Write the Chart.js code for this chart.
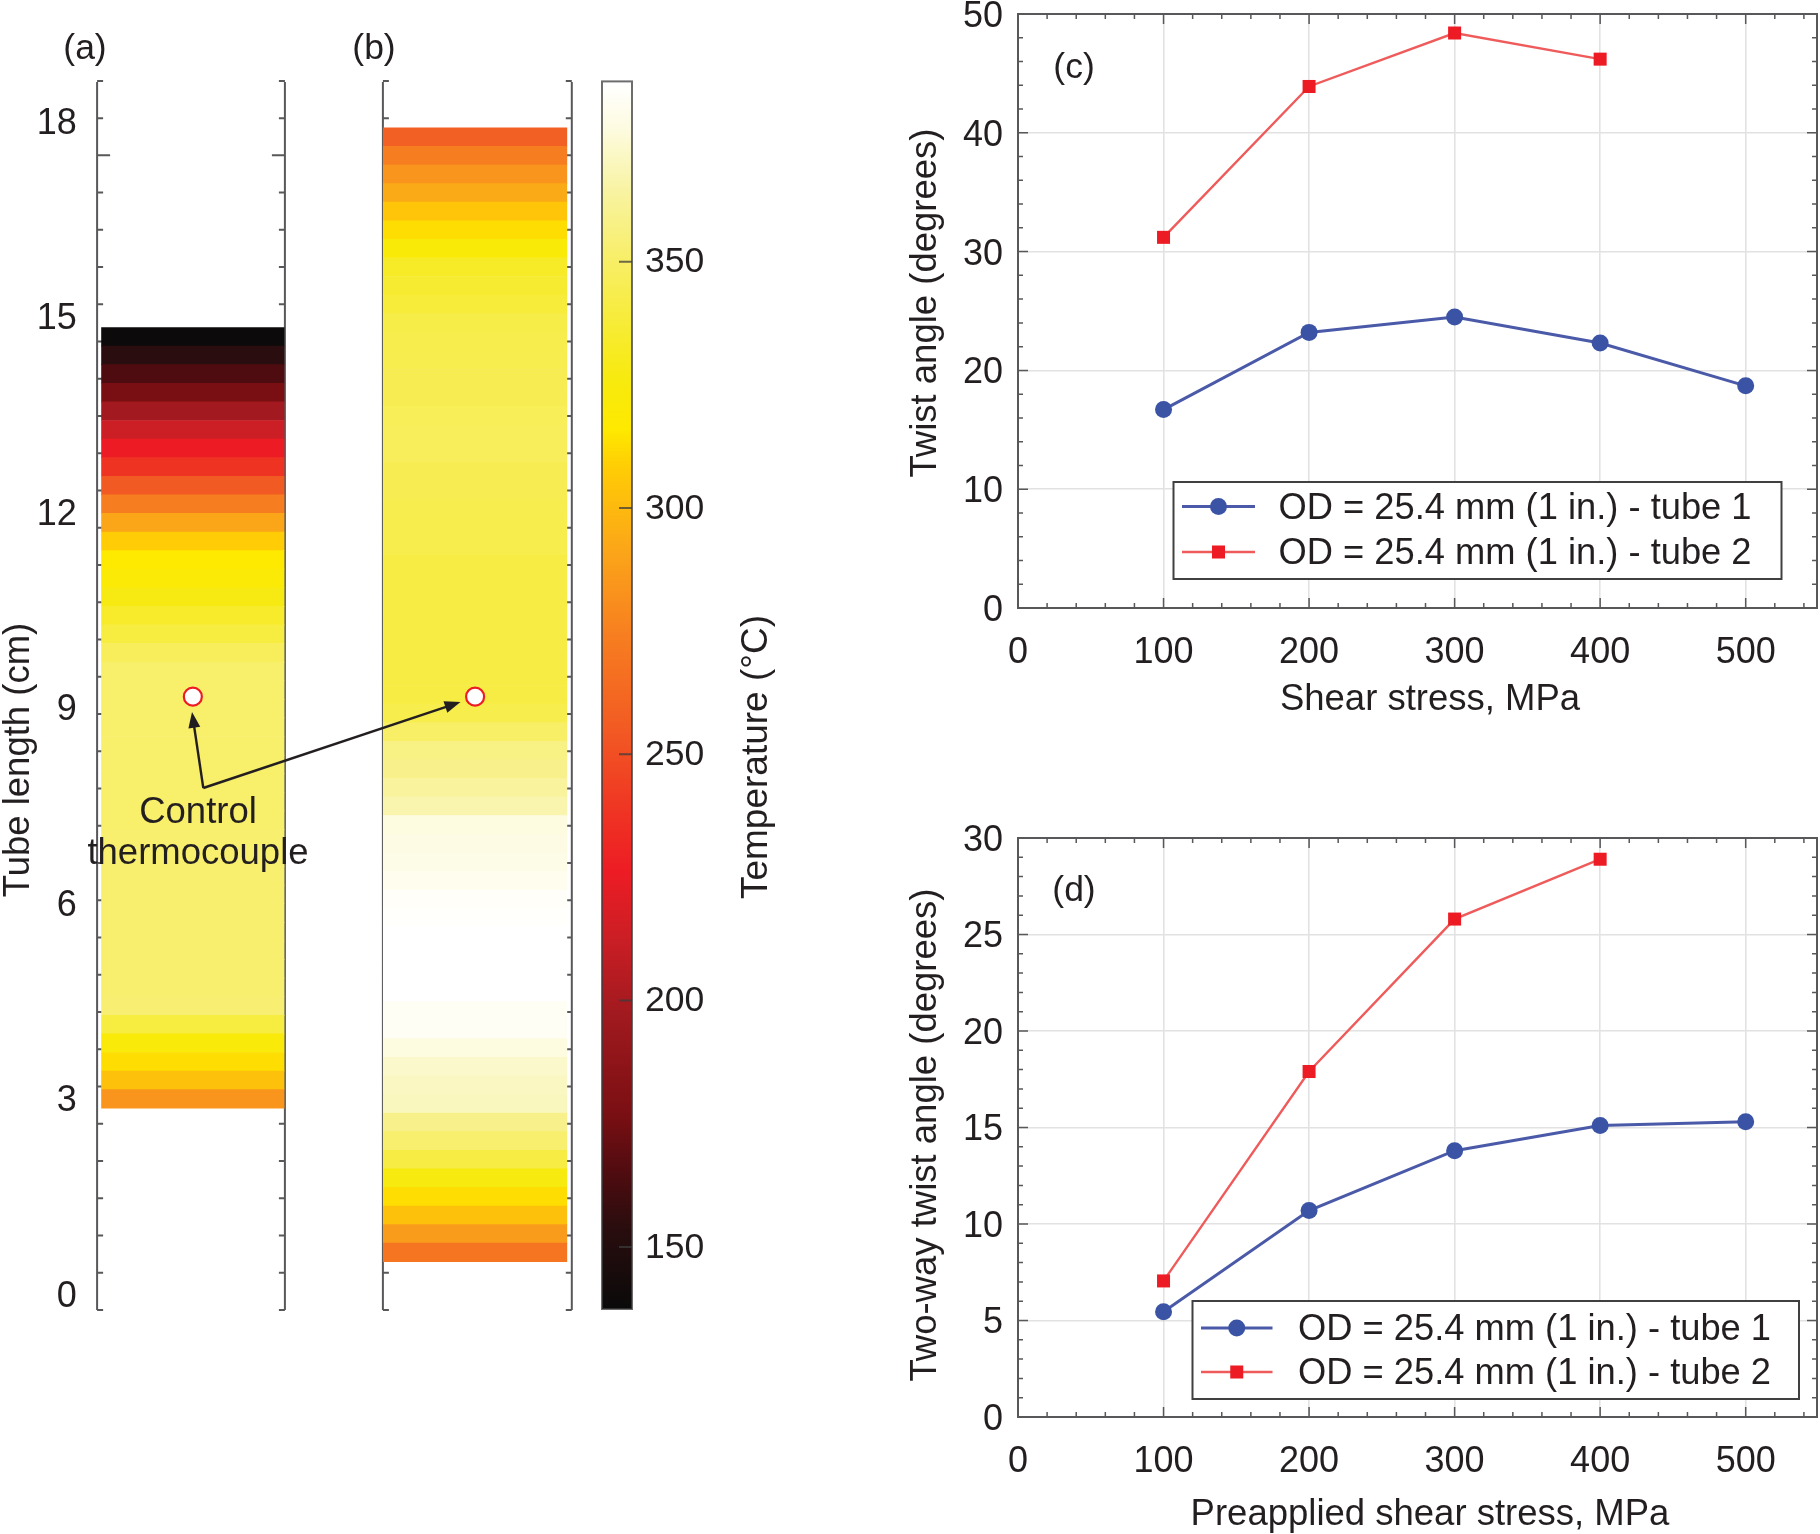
<!DOCTYPE html>
<html>
<head>
<meta charset="utf-8">
<title>Tube temperature and twist angle</title>
<script src="https://cdn.jsdelivr.net/npm/chart.js@4"></script>
<style>
    html, body { margin: 0; padding: 0; background: #fff; }
    #page { position: relative; width: 1820px; height: 1534px; overflow: hidden; }
    /* canvases start above the page so the top tick label of (c) does not push its plot down */
    canvas { position: absolute; left: 0; top: -60px; }
</style>
</head>
<body>
<div id="page">
    <canvas id="panel-b" width="1820" height="1594"></canvas>
    <canvas id="panel-a" width="1820" height="1594"></canvas>
    <canvas id="colorbar" width="1820" height="1594"></canvas>
    <canvas id="panel-c" width="1820" height="1594"></canvas>
    <canvas id="panel-d" width="1820" height="1594"></canvas>
</div>
<script>
// Panels (a) and (b): band temperatures, bottom band first (degrees C)
const bandHeight = 0.2852; // cm
const frameTickStep = 4 / 7; // cm
const tubeStartA = 2.835; // cm
const tubeStartB = 0.48;  // cm
const tempsA = [284, 303, 313, 323, 340, 353,
    352, 352, 352, 352, 352, 352, 352, 352, 352, 351, 351, 351, 351, 351, 351, 351, 351, 351,
    347, 340, 334, 327, 320, 316, 308, 291, 274, 255, 238, 226, 213, 198, 177, 165, 154, 138];
const tempsB = [269, 287, 303, 313, 326, 341, 352, 359, 370, 371, 373, 377, 383, 383,
    386, 386, 386, 386, 385, 384, 381, 379, 378, 377, 367, 363, 359, 357, 350, 343,
    341, 341, 341, 341, 341, 341, 341, 341, 343, 343, 344, 345, 345, 347, 347, 346,
    345, 345, 344, 343, 342, 338, 336, 333, 322, 313, 305, 293, 284, 274, 258];
const thermocoupleCm = 9.15;
const tubeTicks = [0, 3, 6, 9, 12, 15, 18];

// Colour scale
const tempRange = [137.4, 386.6];
const tempTicks = [150, 200, 250, 300, 350];
const tempStops = [137, 154, 165, 177, 198, 213, 226, 238, 255, 274, 291, 308, 316, 326, 340, 352, 364, 377, 386];
const stopColors = ['#0a0a0a', '#2a0d0e', '#4f0c10', '#7a0f13', '#a21a1f', '#cc1e25', '#ed1c24', '#ef3323', '#f25a23',
    '#f77e20', '#fba519', '#ffcc05', '#fee900', '#f7ea0e', '#f7ec40', '#f8ef6e', '#f8f3a0', '#fdfbe0', '#ffffff'];

// Panels (c) and (d)
const stress = [100, 200, 300, 400, 500];
const stressTicks = [0, 100, 200, 300, 400, 500];
const twistTube1 = [16.7, 23.2, 24.5, 22.3, 18.7];
const twistTube2 = [31.2, 43.9, 48.4, 46.2];
const twistTicks = [0, 10, 20, 30, 40, 50];
const twoWayTube1 = [5.45, 10.7, 13.8, 15.1, 15.3];
const twoWayTube2 = [7.05, 17.9, 25.8, 28.9];
const twoWayTicks = [0, 5, 10, 15, 20, 25, 30];
const seriesNames = ['OD = 25.4 mm (1 in.) - tube 1', 'OD = 25.4 mm (1 in.) - tube 2'];

const PAGE_W = 1820, PAGE_H = 1534, SHIFT = 60;
const FONT = '"Liberation Sans", Arial, sans-serif';
const INK = '#231f20';
const FRAME = '#58585a';

function tempColor(t) {
    let i = 0;
    while (i < tempStops.length - 2 && t > tempStops[i + 1]) i++;
    const f = Math.min(1, Math.max(0, (t - tempStops[i]) / (tempStops[i + 1] - tempStops[i])));
    const a = parseInt(stopColors[i].slice(1), 16), b = parseInt(stopColors[i + 1].slice(1), 16);
    const mix = shift => Math.round(((a >> shift) & 255) * (1 - f) + ((b >> shift) & 255) * f);
    return `rgb(${mix(16)},${mix(8)},${mix(0)})`;
}

function areaLayout(area, leftW, rightW, axisH) {
    return {
        autoPadding: false,
        padding: {
            left: area.left - leftW,
            top: area.top + SHIFT,
            right: PAGE_W - area.right - rightW,
            bottom: PAGE_H - area.bottom - axisH
        }
    };
}

// Real text placed on the page: axis titles, panel letters, notes
function textLabels(list) {
    return {
        id: 'textLabels',
        afterDraw(chart) {
            const ctx = chart.ctx;
            list.forEach(l => {
                ctx.save();
                ctx.translate(l.x, l.y + SHIFT);
                if (l.rotate) ctx.rotate(-Math.PI / 2);
                ctx.font = `${l.size}px ${FONT}`;
                ctx.fillStyle = INK;
                ctx.textAlign = 'center';
                ctx.textBaseline = 'middle';
                ctx.fillText(l.text, 0, 2.5);
                ctx.restore();
            });
        }
    };
}

// Open bracket around a tube, with short inward ticks
function tubeFrame(frameLeft, frameRight, longTick) {
    return {
        id: 'tubeFrame',
        beforeDatasetsDraw(chart) {
            const ctx = chart.ctx, y = chart.scales.y;
            ctx.save();
            ctx.strokeStyle = FRAME;
            ctx.lineWidth = 2;
            ctx.beginPath();
            ctx.moveTo(frameLeft, y.top);
            ctx.lineTo(frameLeft, y.bottom);
            ctx.moveTo(frameRight, y.top);
            ctx.lineTo(frameRight, y.bottom);
            for (let k = 0; k <= 33; k++) {
                const py = y.getPixelForValue(y.min + k * frameTickStep);
                const len = k === longTick ? 13 : 6;
                ctx.moveTo(frameLeft, py);
                ctx.lineTo(frameLeft + len, py);
                ctx.moveTo(frameRight, py);
                ctx.lineTo(frameRight - len, py);
            }
            ctx.stroke();
            ctx.restore();
        }
    };
}

function drawArrow(ctx, x0, y0, x1, y1) {
    const ang = Math.atan2(y1 - y0, x1 - x0), head = 17, spread = 0.36;
    ctx.beginPath();
    ctx.moveTo(x0, y0);
    ctx.lineTo(x1 - Math.cos(ang) * head * 0.8, y1 - Math.sin(ang) * head * 0.8);
    ctx.stroke();
    ctx.beginPath();
    ctx.moveTo(x1, y1);
    ctx.lineTo(x1 - head * Math.cos(ang - spread), y1 - head * Math.sin(ang - spread));
    ctx.lineTo(x1 - head * Math.cos(ang + spread), y1 - head * Math.sin(ang + spread));
    ctx.closePath();
    ctx.fill();
}

const controlArrows = {
    id: 'controlArrows',
    afterDraw(chart) {
        const ctx = chart.ctx;
        ctx.save();
        ctx.translate(0, SHIFT);
        ctx.strokeStyle = '#231f20';
        ctx.fillStyle = '#231f20';
        ctx.lineWidth = 2.4;
        drawArrow(ctx, 203.3, 788, 192, 712);
        drawArrow(ctx, 203.3, 788, 460.5, 702);
        ctx.restore();
    }
};

function tubeChart(id, temps, start, area, axisW, plugins) {
    const bands = temps.map((t, i) => ({
        type: 'bar',
        data: [[start + i * bandHeight, start + (i + 1) * bandHeight]],
        backgroundColor: tempColor(t),
        barPercentage: 1,
        categoryPercentage: 1,
        grouped: false,
        order: 2
    }));
    const marker = {
        type: 'line',
        data: [thermocoupleCm],
        showLine: false,
        pointRadius: 9,
        pointBorderWidth: 2.2,
        pointBackgroundColor: '#fff',
        pointBorderColor: '#ed1c24',
        order: 1
    };
    return new Chart(document.getElementById(id), {
        data: { labels: ['tube'], datasets: bands.concat([marker]) },
        options: {
            responsive: false,
            animation: false,
            devicePixelRatio: 1,
            layout: areaLayout(area, axisW, 0, 0),
            plugins: { legend: { display: false }, tooltip: { enabled: false } },
            scales: {
                x: { type: 'category', offset: true, display: false },
                y: {
                    min: -0.26,
                    max: 18.58,
                    display: axisW > 0,
                    afterFit: s => { s.width = axisW; },
                    afterBuildTicks: s => { s.ticks = tubeTicks.map(v => ({ value: v })); },
                    border: { display: false },
                    grid: { display: false, drawTicks: false },
                    ticks: { padding: 24.5, labelOffset: 4, color: INK, font: { family: FONT, size: 36 } }
                }
            }
        },
        plugins: plugins
    });
}

tubeChart('panel-b', tempsB, tubeStartB, { left: 382.9, right: 567.3, top: 82, bottom: 1310 }, 0, [
    tubeFrame(382.9, 571.8, -1),
    textLabels([{ text: '(b)', x: 374, y: 47, size: 35.5 }])
]);

tubeChart('panel-a', tempsA, tubeStartA, { left: 101.2, right: 284.5, top: 82, bottom: 1310 }, 101.2, [
    tubeFrame(97.1, 284.9, 31),
    controlArrows,
    textLabels([
        { text: '(a)', x: 85, y: 47, size: 35.5 },
        { text: 'Tube length (cm)', x: 16, y: 760, size: 36.5, rotate: true },
        { text: 'Control', x: 198, y: 810, size: 36.5 },
        { text: 'thermocouple', x: 198, y: 851, size: 36.5 }
    ])
]);

// Colour bar: one floating bar painted with the colour scale
const colorbarFrame = {
    id: 'colorbarFrame',
    afterDatasetsDraw(chart) {
        const ctx = chart.ctx, a = chart.chartArea, y = chart.scales.y;
        ctx.save();
        ctx.strokeStyle = 'rgba(60,60,60,0.75)';
        ctx.lineWidth = 2;
        ctx.strokeRect(a.left, a.top, a.right - a.left, a.bottom - a.top);
        ctx.beginPath();
        tempTicks.forEach(t => {
            const py = y.getPixelForValue(t);
            ctx.moveTo(a.right, py);
            ctx.lineTo(a.right - 13, py);
        });
        ctx.stroke();
        ctx.restore();
    }
};

const colorbarArea = { left: 602, right: 632, top: 81.4, bottom: 1309 };
new Chart(document.getElementById('colorbar'), {
    data: {
        labels: ['temperature'],
        datasets: [{
            type: 'bar',
            data: [tempRange],
            barPercentage: 1,
            categoryPercentage: 1,
            backgroundColor(c) {
                const y = c.chart.scales.y;
                if (!y || !c.chart.chartArea) return '#888';
                const g = c.chart.ctx.createLinearGradient(0, y.getPixelForValue(tempRange[0]), 0, y.getPixelForValue(tempRange[1]));
                tempStops.forEach((t, i) => {
                    const f = (t - tempRange[0]) / (tempRange[1] - tempRange[0]);
                    g.addColorStop(Math.min(1, Math.max(0, f)), stopColors[i]);
                });
                return g;
            }
        }]
    },
    options: {
        responsive: false,
        animation: false,
        devicePixelRatio: 1,
        layout: areaLayout(colorbarArea, 0, 90, 0),
        plugins: { legend: { display: false }, tooltip: { enabled: false } },
        scales: {
            x: { type: 'category', offset: true, display: false },
            y: {
                position: 'right',
                min: tempRange[0],
                max: tempRange[1],
                afterFit: s => { s.width = 90; },
                afterBuildTicks: s => { s.ticks = tempTicks.map(v => ({ value: v })); },
                border: { display: false },
                grid: { display: false, drawTicks: false },
                ticks: { padding: 13, labelOffset: 1, color: INK, font: { family: FONT, size: 35.5 } }
            }
        }
    },
    plugins: [colorbarFrame, textLabels([{ text: 'Temperature (°C)', x: 754, y: 757, size: 37, rotate: true }])]
});

// Box and inward ticks on all four sides of a line plot
function plotFrame(xMinor, yMinor) {
    return {
        id: 'plotFrame',
        beforeDatasetsDraw(chart) {
            const ctx = chart.ctx, a = chart.chartArea, xs = chart.scales.x, ys = chart.scales.y;
            ctx.save();
            ctx.strokeStyle = FRAME;
            ctx.lineWidth = 2;
            ctx.strokeRect(a.left, a.top, a.right - a.left, a.bottom - a.top);
            ctx.lineWidth = 1.5;
            ctx.beginPath();
            for (let v = 0; v <= xs.max; v += xMinor) {
                const px = xs.getPixelForValue(v), len = v % 100 === 0 ? 10 : 5;
                ctx.moveTo(px, a.bottom);
                ctx.lineTo(px, a.bottom - len);
                ctx.moveTo(px, a.top);
                ctx.lineTo(px, a.top + len);
            }
            for (let v = 0; v <= ys.max; v += yMinor) {
                const py = ys.getPixelForValue(v), len = ys.ticks.some(t => t.value === v) ? 10 : 5;
                ctx.moveTo(a.left, py);
                ctx.lineTo(a.left + len, py);
                ctx.moveTo(a.right, py);
                ctx.lineTo(a.right - len, py);
            }
            ctx.stroke();
            ctx.restore();
        }
    };
}

// Legend box inside the plot
function legendBox(box) {
    return {
        id: 'legendBox',
        afterDatasetsDraw(chart) {
            const ctx = chart.ctx;
            ctx.save();
            ctx.translate(0, SHIFT);
            ctx.fillStyle = '#fff';
            ctx.strokeStyle = '#404041';
            ctx.lineWidth = 2;
            ctx.fillRect(box.x0, box.y0, box.x1 - box.x0, box.y1 - box.y0);
            ctx.strokeRect(box.x0, box.y0, box.x1 - box.x0, box.y1 - box.y0);
            chart.data.datasets.forEach((ds, i) => {
                const y = box.rows[i], mid = (box.line0 + box.line1) / 2;
                ctx.strokeStyle = ds.borderColor;
                ctx.lineWidth = ds.borderWidth;
                ctx.beginPath();
                ctx.moveTo(box.line0, y);
                ctx.lineTo(box.line1, y);
                ctx.stroke();
                ctx.fillStyle = ds.pointBackgroundColor;
                if (ds.pointStyle === 'rect') {
                    const half = ds.pointRadius * Math.SQRT1_2;
                    ctx.fillRect(mid - half, y - half, half * 2, half * 2);
                } else {
                    ctx.beginPath();
                    ctx.arc(mid, y, ds.pointRadius, 0, Math.PI * 2);
                    ctx.fill();
                }
                ctx.fillStyle = INK;
                ctx.font = `36.3px ${FONT}`;
                ctx.textBaseline = 'middle';
                ctx.fillText(ds.label, box.text, y + 2);
            });
            ctx.restore();
        }
    };
}

function xy(values) {
    return values.map((v, i) => ({ x: stress[i], y: v }));
}

function linePlot(id, tube1, tube2, area, yMax, yTicks, yMinor, plugins) {
    const axisW = 110, axisH = 70;
    const lineFont = { family: FONT, size: 36 };
    return new Chart(document.getElementById(id), {
        type: 'line',
        data: {
            datasets: [
                {
                    label: seriesNames[0],
                    data: xy(tube1),
                    borderColor: '#4a5aa8',
                    borderWidth: 3,
                    pointStyle: 'circle',
                    pointRadius: 8.5,
                    pointBackgroundColor: '#3a53a4',
                    pointBorderWidth: 0,
                    tension: 0
                },
                {
                    label: seriesNames[1],
                    data: xy(tube2),
                    borderColor: '#ef5b5b',
                    borderWidth: 2.4,
                    pointStyle: 'rect',
                    pointRadius: 9.2,
                    pointBackgroundColor: '#ed1c24',
                    pointBorderWidth: 0,
                    tension: 0
                }
            ]
        },
        options: {
            responsive: false,
            animation: false,
            devicePixelRatio: 1,
            layout: areaLayout(area, axisW, 0, axisH),
            plugins: { legend: { display: false }, tooltip: { enabled: false } },
            scales: {
                x: {
                    type: 'linear',
                    min: 0,
                    max: 549,
                    afterFit: s => { s.height = axisH; },
                    afterBuildTicks: s => { s.ticks = stressTicks.map(v => ({ value: v })); },
                    border: { display: false },
                    grid: { color: '#e2e2e2', lineWidth: 1.6, drawTicks: false },
                    ticks: { padding: 23, maxRotation: 0, color: INK, font: lineFont }
                },
                y: {
                    min: 0,
                    max: yMax,
                    afterFit: s => { s.width = axisW; },
                    afterBuildTicks: s => { s.ticks = yTicks.map(v => ({ value: v })); },
                    border: { display: false },
                    grid: { color: '#e2e2e2', lineWidth: 1.6, drawTicks: false },
                    ticks: { padding: 15, labelOffset: 3, color: INK, font: lineFont }
                }
            }
        },
        plugins: [plotFrame(20, yMinor)].concat(plugins)
    });
}

linePlot('panel-c', twistTube1, twistTube2, { left: 1018, right: 1817, top: 14, bottom: 608 }, 50, twistTicks, 2, [
    legendBox({ x0: 1173.5, y0: 482, x1: 1781.5, y1: 579, rows: [506.5, 552], line0: 1182, line1: 1255, text: 1278.5 }),
    textLabels([
        { text: '(c)', x: 1074, y: 66, size: 35.5 },
        { text: 'Twist angle (degrees)', x: 923, y: 303, size: 36.5, rotate: true },
        { text: 'Shear stress, MPa', x: 1430, y: 697, size: 36.5 }
    ])
]);

linePlot('panel-d', twoWayTube1, twoWayTube2, { left: 1018, right: 1817, top: 838, bottom: 1417 }, 30, twoWayTicks, 1, [
    legendBox({ x0: 1192.5, y0: 1301, x1: 1799, y1: 1399, rows: [1328, 1372], line0: 1201, line1: 1272.5, text: 1298 }),
    textLabels([
        { text: '(d)', x: 1074, y: 889, size: 35.5 },
        { text: 'Two-way twist angle (degrees)', x: 923, y: 1135, size: 36.5, rotate: true },
        { text: 'Preapplied shear stress, MPa', x: 1430, y: 1512, size: 36.5 }
    ])
]);
</script>
</body>
</html>
